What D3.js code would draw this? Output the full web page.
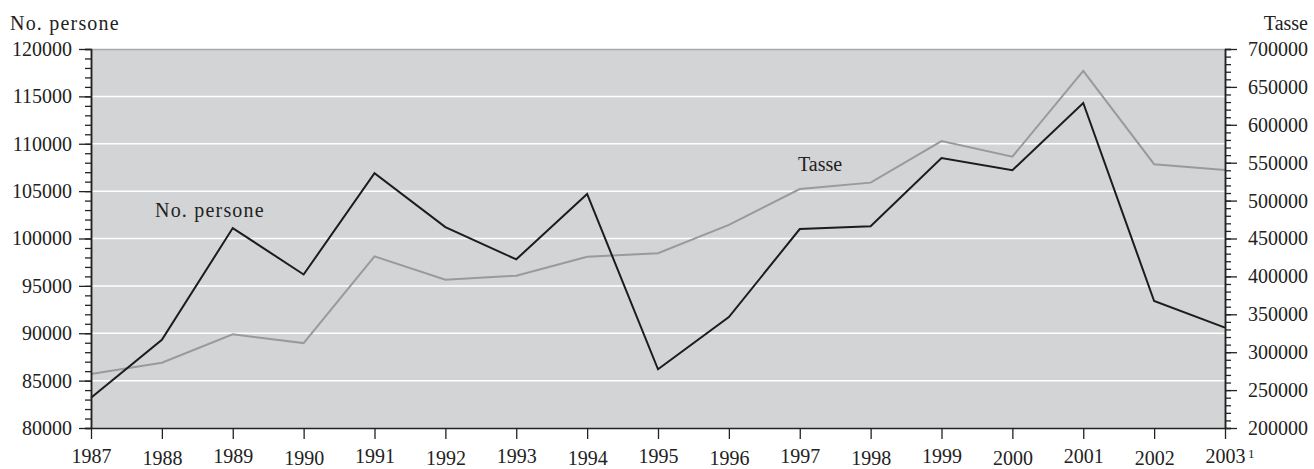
<!DOCTYPE html>
<html>
<head>
<meta charset="utf-8">
<script src="https://cdn.jsdelivr.net/npm/d3@7"></script>
<style>
  body { margin: 0; background: #fff; }
  svg text { font-family: "Liberation Serif", "Times New Roman", serif; fill: #222; }
</style>
</head>
<body>
<svg id="chart" width="1314" height="469"></svg>
<script>
const years = [1987,1988,1989,1990,1991,1992,1993,1994,1995,1996,1997,1998,1999,2000,2001,2002,2003];
const persone = [83200,89300,101100,96200,106900,101200,97800,104700,86200,91700,101000,101300,108500,107200,114300,93400,90600];
const tasse = [271200,286200,323600,312000,426500,395700,401000,426000,430500,468000,515300,523700,578600,558000,671000,548000,540400];
const leftTicks = [80000,85000,90000,95000,100000,105000,110000,115000,120000];
const rightTicks = [200000,250000,300000,350000,400000,450000,500000,550000,600000,650000,700000];

const svg = d3.select("#chart");
const L = 91, R = 1225, T = 49, B = 428;

const x = d3.scaleLinear().domain([1987, 2003]).range([L, R]);
const yL = d3.scaleLinear().domain([80000, 120000]).range([B, T]);
const yR = d3.scaleLinear().domain([200000, 700000]).range([B, T]);

// plot background
svg.append("rect").attr("x", L).attr("y", T).attr("width", R - L).attr("height", B - T)
  .attr("fill", "#d3d4d6");
svg.append("line").attr("x1", L).attr("x2", R).attr("y1", T + 0.5).attr("y2", T + 0.5)
  .attr("stroke", "#a8a8a8").attr("stroke-width", 1.5);

// gridlines
svg.append("g").selectAll("line").data(leftTicks.filter(d => d > 80000 && d < 120000)).join("line")
  .attr("x1", L).attr("x2", R).attr("y1", d => yL(d)).attr("y2", d => yL(d))
  .attr("stroke", "#ffffff").attr("stroke-width", 1.5);

// lines
const lineP = d3.line().x((d, i) => x(years[i])).y(d => yL(d));
const lineT = d3.line().x((d, i) => x(years[i])).y(d => yR(d));
svg.append("path").datum(tasse).attr("d", lineT).attr("fill", "none")
  .attr("stroke", "#9a9a9a").attr("stroke-width", 2).attr("stroke-linejoin", "miter");
svg.append("path").datum(persone).attr("d", lineP).attr("fill", "none")
  .attr("stroke", "#1c1c1c").attr("stroke-width", 2).attr("stroke-linejoin", "miter");

function styleAxis(g) {
  g.selectAll("path.domain").attr("stroke", "#222").attr("stroke-width", 1.5);
  g.selectAll(".tick line").attr("stroke", "#222").attr("stroke-width", 1.3);
  g.selectAll("text").attr("font-size", 20).attr("fill", "#222")
    .attr("font-family", '"Liberation Serif", serif');
}

// left axis minor
const leftMinor = d3.range(80000, 120001, 1000);
svg.append("g").attr("transform", `translate(${L},0)`)
  .call(d3.axisLeft(yL).tickValues(leftMinor).tickSize(6).tickFormat(""))
  .call(styleAxis);
svg.append("g").attr("transform", `translate(${L},0)`)
  .call(d3.axisLeft(yL).tickValues(leftTicks).tickSize(12).tickSizeOuter(0).tickPadding(7).tickFormat(d3.format("d")))
  .call(styleAxis);

// right axis
const rightMinor = d3.range(200000, 700001, 10000);
svg.append("g").attr("transform", `translate(${R},0)`)
  .call(d3.axisRight(yR).tickValues(rightMinor).tickSize(6).tickFormat(""))
  .call(styleAxis);
svg.append("g").attr("transform", `translate(${R},0)`)
  .call(d3.axisRight(yR).tickValues(rightTicks).tickSize(12).tickSizeOuter(0).tickPadding(11).tickFormat(d3.format("d")))
  .call(styleAxis);

// bottom axis
const gx = svg.append("g").attr("transform", `translate(0,${B})`)
  .call(d3.axisBottom(x).tickValues(years).tickSize(11).tickSizeOuter(0).tickFormat(d3.format("d")))
  .call(styleAxis);
gx.selectAll(".tick text").attr("dy", null).attr("y", (d, i) => i % 2 === 0 ? 35 : 36.5)
  .attr("dominant-baseline", "auto");

// superscript after 2003
svg.append("text").attr("x", x(2003) + 23).attr("y", 458).attr("font-size", 13).text("1");

// axis titles
svg.append("text").attr("x", 10).attr("y", 30).attr("font-size", 20)
  .attr("letter-spacing", 1.2).text("No. persone");
svg.append("text").attr("x", 1308).attr("y", 30).attr("font-size", 20)
  .attr("text-anchor", "end").text("Tasse");

// in-plot labels
svg.append("text").attr("x", 155).attr("y", 217).attr("font-size", 20)
  .attr("letter-spacing", 1.2).text("No. persone");
svg.append("text").attr("x", 798).attr("y", 171).attr("font-size", 20).text("Tasse");
</script>
</body>
</html>
